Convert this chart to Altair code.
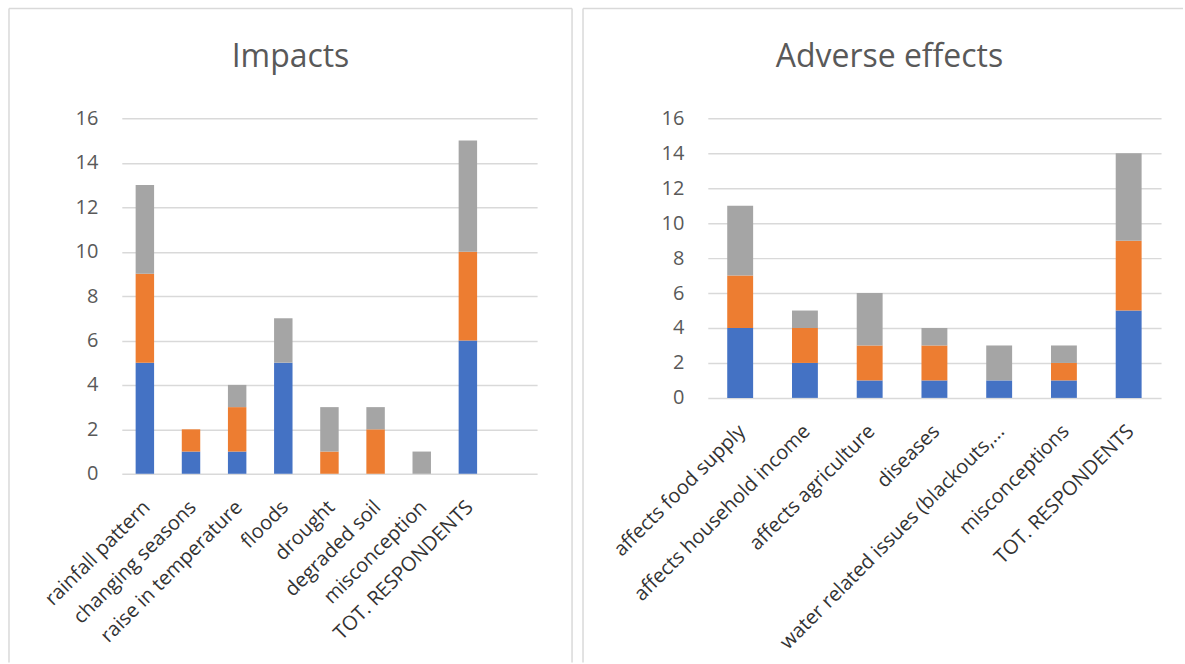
import altair as alt
import pandas as pd

# ---------------- data ----------------
impact_cats = ["rainfall pattern", "changing seasons", "raise in temperature", "floods",
               "drought", "degraded soil", "misconception", "TOT. RESPONDENTS"]
impact_blue = [5, 1, 1, 5, 0, 0, 0, 6]
impact_orange = [4, 1, 2, 0, 1, 2, 0, 4]
impact_gray = [4, 0, 1, 2, 2, 1, 1, 5]

adverse_cats = ["affects food supply", "affects household income", "affects agriculture",
                "diseases", "water related issues (blackouts,...", "misconceptions",
                "TOT. RESPONDENTS"]
adverse_blue = [4, 2, 1, 1, 1, 1, 5]
adverse_orange = [3, 2, 2, 2, 0, 1, 4]
adverse_gray = [4, 1, 3, 1, 2, 1, 5]

series_names = ["Series1", "Series2", "Series3"]
series_colors = ["#4472C4", "#ED7D31", "#A5A5A5"]
y_ticks = [0, 2, 4, 6, 8, 10, 12, 14, 16]

FONT = "Open Sans"
GRID = "#D9D9D9"
TEXT = "#595959"


def long_df(cats, blue, orange, gray):
    rows = []
    for i, c in enumerate(cats):
        for k, vals in enumerate([blue, orange, gray]):
            rows.append({"cat": c, "series": series_names[k], "k": k, "v": vals[i]})
    return pd.DataFrame(rows)


def frame_rule(x, x2, y, y2):
    return alt.Chart(pd.DataFrame({"a": [0]})).mark_rule(
        color=GRID, strokeWidth=1.5
    ).encode(x=alt.value(x), x2=alt.value(x2), y=alt.value(y), y2=alt.value(y2))


def panel(cats, blue, orange, gray, domain, title, w, h, title_x, frame):
    df = long_df(cats, blue, orange, gray)
    bars = alt.Chart(df).mark_bar().encode(
        x=alt.X("cat:N", sort=domain,
                scale=alt.Scale(domain=domain, paddingInner=0.6, paddingOuter=0.3),
                axis=alt.Axis(title=None, labelAngle=-45, labelAlign="right",
                              labelBaseline="top", labelPadding=23, labelOffset=-5,
                              labelFontSize=20, labelFont=FONT, labelColor="#333333",
                              labelLimit=400, ticks=False, domain=False, grid=False)),
        y=alt.Y("v:Q", stack="zero",
                scale=alt.Scale(domain=[0, 16], nice=False),
                axis=alt.Axis(title=None, values=y_ticks, labelFontSize=20, labelFont=FONT,
                              labelColor=TEXT, labelPadding=24, ticks=False, domain=False,
                              grid=True, gridColor=GRID, gridWidth=1.5)),
        color=alt.Color("series:N", scale=alt.Scale(domain=series_names, range=series_colors),
                        legend=None),
        order=alt.Order("k:Q", sort="ascending"),
    )
    ttl = alt.Chart(pd.DataFrame({"t": [title]})).mark_text(
        font=FONT, fontSize=32, color=TEXT, align="center", baseline="middle"
    ).encode(x=alt.value(title_x), y=alt.value(-61), text="t:N")
    layers = [bars, ttl] + [frame_rule(*f) for f in frame]
    return alt.layer(*layers).properties(width=w, height=h)


left = panel(impact_cats, impact_blue, impact_orange, impact_gray,
             impact_cats + [" "], "Impacts", 416, 356, 169,
             [(-113, 451, -110, -110), (-113, -113, -110, 545), (451, 451, -110, 545)])
right = panel(adverse_cats, adverse_blue, adverse_orange, adverse_gray,
              adverse_cats, "Adverse effects", 454, 280, 182,
              [(-125, 476, -110, -110), (-125, -125, -110, 545)])

chart = alt.hconcat(left, right, spacing=7).properties(
    padding={"left": 7, "top": 6, "right": 0, "bottom": 0},
    background="white",
).configure_view(stroke="transparent")

chart.save("out.html", embed_options={"renderer": "svg", "actions": False})
